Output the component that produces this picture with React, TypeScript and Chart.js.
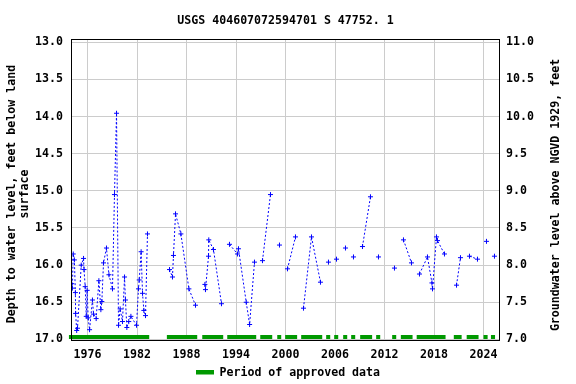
import React, { useEffect, useRef } from 'react';
import { Chart, registerables } from 'chart.js';

Chart.register(...registerables);

// ---------- text ----------
const TITLE = 'USGS 404607072594701 S 47752. 1';
const LEFT_AXIS_TITLE = ['Depth to water level, feet below land', 'surface'];
const RIGHT_AXIS_TITLE = 'Groundwater level above NGVD 1929, feet';
const LEGEND_LABEL = 'Period of approved data';

// ---------- axes ----------
const YEAR_MIN = 1974;
const YEAR_MAX = 2026;
const YEAR_TICKS = [1976, 1982, 1988, 1994, 2000, 2006, 2012, 2018, 2024];
const DEPTH_MIN = 12.955;
const DEPTH_MAX = 17.022;
const DEPTH_TICKS = [13.0, 13.5, 14.0, 14.5, 15.0, 15.5, 16.0, 16.5, 17.0];
const ELEVATION_TICKS = [7.0, 7.5, 8.0, 8.5, 9.0, 9.5, 10.0, 10.5, 11.0];
const DATUM = 24; // elevation above NGVD 1929 = DATUM - depth

// ---------- measurements (connected runs) ----------
const RUN_YEARS: number[][] = [
  [1974.08, 1974.17, 1974.27, 1974.41, 1974.53, 1974.56, 1974.69, 1974.79, 1975.24, 1975.52,
   1975.58, 1975.72, 1975.85, 1975.96, 1976.08, 1976.25, 1976.6, 1976.73, 1977.05, 1977.38,
   1977.62, 1977.74, 1977.94, 1978.3, 1978.6, 1979.03, 1979.27, 1979.52, 1979.76, 1979.96,
   1980.24, 1980.49, 1980.6, 1980.77, 1981.0, 1981.26, 1981.94, 1982.18, 1982.27, 1982.5,
   1982.67, 1982.83, 1983.03, 1983.27],
  [1985.94, 1986.3, 1986.42, 1986.67, 1987.32, 1988.29, 1989.09],
  [1990.23, 1990.3, 1990.67, 1990.7, 1991.27, 1992.24],
  [1993.21, 1994.18, 1994.3, 1995.24, 1995.65, 1996.24],
  [1997.21, 1998.18],
  [1999.27],
  [2000.24, 2001.21],
  [2002.18, 2003.15, 2004.24],
  [2005.21],
  [2006.18],
  [2007.27],
  [2008.24],
  [2009.33, 2010.3],
  [2011.27],
  [2013.21],
  [2014.3, 2015.27],
  [2016.24, 2017.21, 2017.75, 2017.82, 2018.3, 2018.42, 2019.27],
  [2020.73, 2021.21],
  [2022.3, 2023.27],
  [2024.36],
  [2025.33],
];
const RUN_DEPTHS: number[][] = [
  [16.25, 16.31, 15.85, 15.93, 16.37, 16.65, 16.88, 16.85, 16.0, 15.91,
   16.06, 16.29, 16.69, 16.34, 16.71, 16.87, 16.47, 16.66, 16.72, 16.21,
   16.6, 16.49, 15.97, 15.77, 16.13, 16.32, 15.05, 13.955, 16.81, 16.59,
   16.76, 16.16, 16.47, 16.84, 16.76, 16.69, 16.81, 16.32, 16.2, 15.82,
   16.38, 16.61, 16.68, 15.58],
  [16.06, 16.16, 15.87, 15.31, 15.58, 16.32, 16.54],
  [16.26, 16.33, 15.88, 15.66, 15.79, 16.52],
  [15.72, 15.85, 15.78, 16.5, 16.8, 15.96],
  [15.94, 15.05],
  [15.73],
  [16.05, 15.62],
  [16.58, 15.62, 16.23],
  [15.96],
  [15.92],
  [15.77],
  [15.89],
  [15.75, 15.08],
  [15.89],
  [16.04],
  [15.66, 15.97],
  [16.12, 15.89, 16.24, 16.32, 15.62, 15.67, 15.85],
  [16.27, 15.9],
  [15.88, 15.92],
  [15.68],
  [15.88],
];

// ---------- approved data periods ----------
const APPROVED_START = [1973.75, 1985.62, 1989.91, 1992.94, 1996.94, 1999.0, 1999.96, 2001.9, 2004.93,
  2005.9, 2006.99, 2007.96, 2009.05, 2010.99, 2012.93, 2013.98, 2015.9, 2020.4, 2021.96, 2024.0, 2024.9];
const APPROVED_END = [1983.48, 1989.3, 1992.45, 1996.45, 1998.39, 1999.48, 2001.41, 2004.45, 2005.42,
  2006.39, 2007.48, 2008.45, 2010.5, 2011.48, 2013.42, 2015.4, 2019.4, 2021.35, 2023.4, 2024.5, 2025.4];

// ---------- style ----------
const FONT = 'DejaVu Sans Mono';
const FONT_SIZE = 11.6;
const BLUE = '#0000ff';
const GREEN = '#009900';
const GRID = '#cccccc';

function buildPoints() {
  const pts: { x: number; y: number | null }[] = [];
  RUN_YEARS.forEach((years, r) => {
    if (r > 0) {
      const prev = RUN_YEARS[r - 1];
      pts.push({ x: (prev[prev.length - 1] + years[0]) / 2, y: null });
    }
    years.forEach((yr, i) => pts.push({ x: yr, y: RUN_DEPTHS[r][i] }));
  });
  return pts;
}

const decorPlugin = {
  id: 'decor',
  afterDraw(chart: any) {
    const { ctx, chartArea: a, scales } = chart;
    const xs = scales.x;
    const font = `bold ${FONT_SIZE}px "${FONT}"`;
    ctx.save();
    // approved periods bar
    ctx.fillStyle = GREEN;
    APPROVED_START.forEach((s, i) => {
      const x0 = xs.getPixelForValue(s);
      const x1 = xs.getPixelForValue(APPROVED_END[i]);
      ctx.fillRect(x0, a.bottom - 6, x1 - x0, 4);
    });
    // frame
    ctx.strokeStyle = '#000';
    ctx.lineWidth = 1;
    ctx.strokeRect(a.left + 0.5, a.top + 0.5, a.right - a.left - 1, a.bottom - a.top - 1);
    // title
    ctx.fillStyle = '#000';
    ctx.font = font;
    ctx.textAlign = 'center';
    ctx.textBaseline = 'middle';
    ctx.fillText(TITLE, (a.left + a.right) / 2, 20.5);
    // left axis title
    const midY = 194;
    ctx.save();
    ctx.translate(11.7, midY);
    ctx.rotate(-Math.PI / 2);
    ctx.fillText(LEFT_AXIS_TITLE[0], 0, 0);
    ctx.fillText(LEFT_AXIS_TITLE[1], 0, 13);
    ctx.restore();
    // right axis title
    ctx.save();
    ctx.translate(556, 195);
    ctx.rotate(-Math.PI / 2);
    ctx.fillText(RIGHT_AXIS_TITLE, 0, 0);
    ctx.restore();
    // legend
    ctx.fillStyle = GREEN;
    ctx.fillRect(196, 370, 18, 4.5);
    ctx.fillStyle = '#000';
    ctx.textAlign = 'left';
    ctx.fillText(LEGEND_LABEL, 219.5, 372.5);
    ctx.restore();
  },
};

export default function App() {
  const ref = useRef<HTMLCanvasElement>(null);
  useEffect(() => {
    const canvas = ref.current;
    if (!canvas) return;
    const tickFont = { family: FONT, size: FONT_SIZE, weight: 'bold' as const };
    const chart = new Chart(canvas, {
      type: 'line',
      data: {
        datasets: [
          {
            data: buildPoints(),
            borderColor: BLUE,
            backgroundColor: BLUE,
            borderWidth: 1,
            borderDash: [2, 2],
            pointStyle: 'cross',
            pointRadius: 2.5,
            pointBorderWidth: 1,
            pointBorderColor: BLUE,
            spanGaps: false,
            fill: false,
            tension: 0,
          },
        ],
      },
      options: {
        responsive: false,
        animation: false,
        devicePixelRatio: 1,
        layout: { padding: { top: 39, left: 0, right: 0, bottom: 0 } },
        plugins: { legend: { display: false }, title: { display: false }, tooltip: { enabled: false } },
        scales: {
          x: {
            type: 'linear',
            min: YEAR_MIN,
            max: YEAR_MAX,
            afterBuildTicks: (s: any) => { s.ticks = YEAR_TICKS.map((v) => ({ value: v })); },
            afterFit: (s: any) => { s.height = 43; },
            grid: { color: GRID, drawTicks: false, lineWidth: 1 },
            border: { display: false },
            ticks: { font: tickFont, color: '#000', padding: 7, maxRotation: 0, callback: (v: any) => String(v) },
          },
          y: {
            type: 'linear',
            position: 'left',
            reverse: true,
            min: DEPTH_MIN,
            max: DEPTH_MAX,
            afterBuildTicks: (s: any) => { s.ticks = DEPTH_TICKS.map((v) => ({ value: v })); },
            afterFit: (s: any) => { s.width = 71; },
            grid: { color: GRID, drawTicks: false, lineWidth: 1 },
            border: { display: false },
            ticks: { font: tickFont, color: '#000', padding: 8, callback: (v: any) => Number(v).toFixed(1) },
          },
          y2: {
            type: 'linear',
            position: 'right',
            min: DATUM - DEPTH_MAX,
            max: DATUM - DEPTH_MIN,
            afterBuildTicks: (s: any) => { s.ticks = ELEVATION_TICKS.map((v) => ({ value: v })); },
            afterFit: (s: any) => { s.width = 76; },
            grid: { display: false, drawTicks: false },
            border: { display: false },
            ticks: { font: tickFont, color: '#000', padding: 6, callback: (v: any) => Number(v).toFixed(1) },
          },
        },
      },
      plugins: [decorPlugin],
    });
    return () => chart.destroy();
  }, []);
  return (
    <div style={{ position: 'fixed', left: 0, top: 0, width: 576, height: 384, background: '#fff' }}>
      <canvas ref={ref} width={576} height={384} style={{ display: 'block' }} />
    </div>
  );
}
